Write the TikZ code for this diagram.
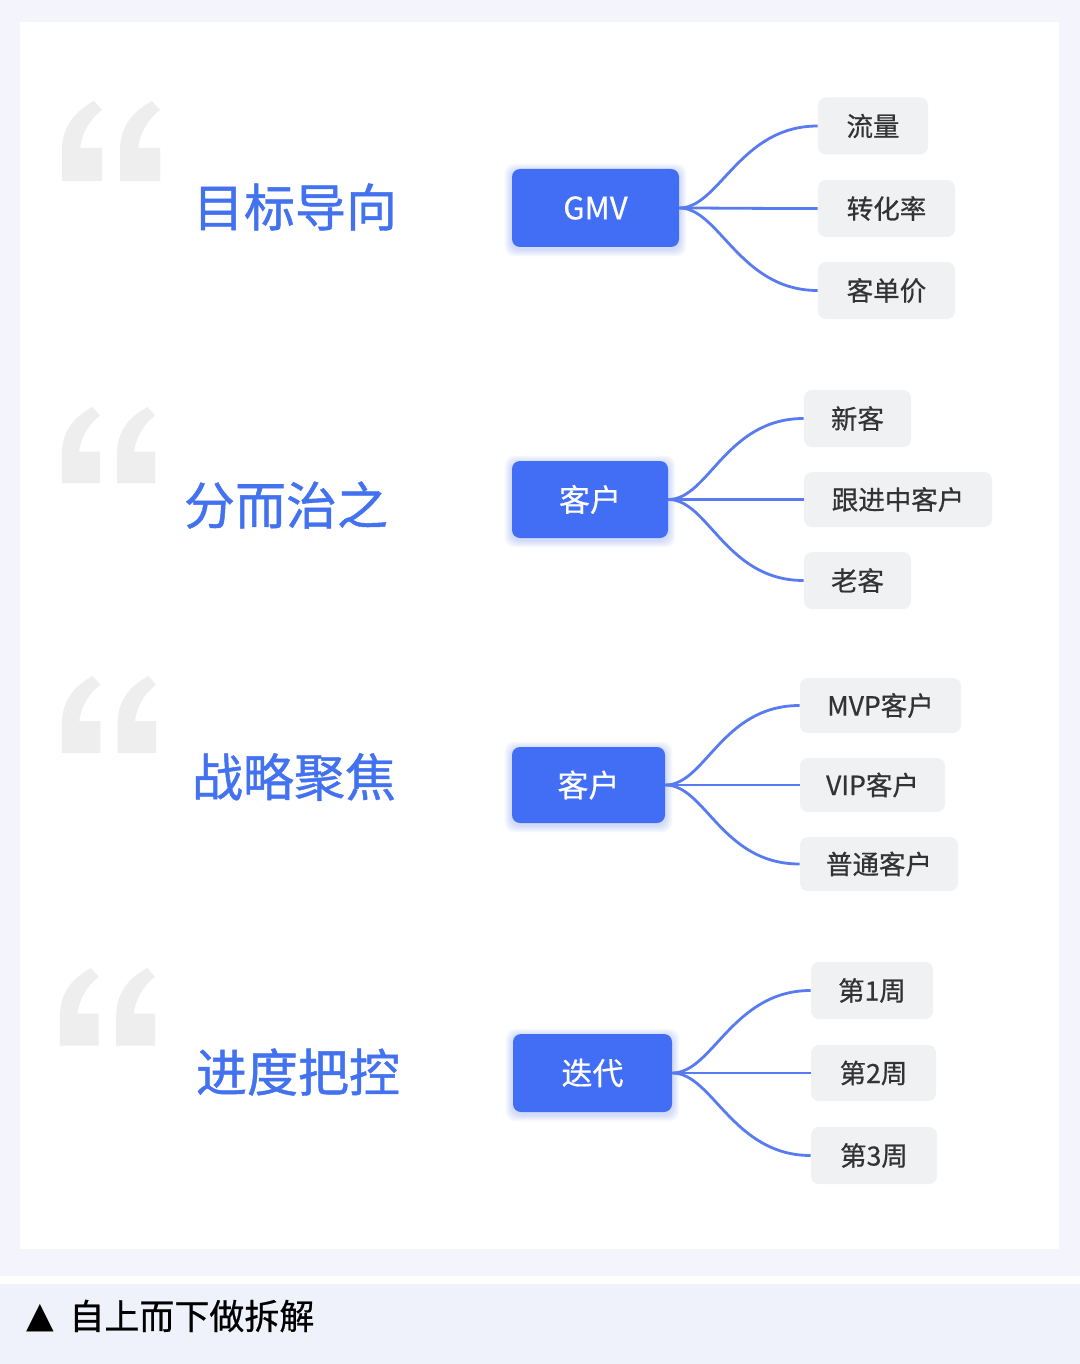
\documentclass[tikz,border=0pt]{standalone}
\usepackage{fontspec}
\newfontfamily\cjk{Noto Sans CJK SC}
\newfontfamily\cjkm[FakeBold=0.6]{Noto Sans CJK SC}
\newfontfamily\cjkt[FakeBold=0.9]{Noto Sans CJK SC}
\newfontfamily\djv{DejaVu Sans}
\usetikzlibrary{calc,backgrounds}
\definecolor{pagebg}{HTML}{F4F5FC}
\definecolor{capbg}{HTML}{EFF2FA}
\definecolor{mainblue}{HTML}{416EF5}
\definecolor{linkblue}{HTML}{587BF2}
\definecolor{titleblue}{HTML}{4372F0}
\definecolor{leafgray}{HTML}{F0F1F3}
\definecolor{leaftext}{HTML}{333333}
\definecolor{quotegray}{HTML}{EEEEEE}
\tikzset{
 mainbox/.style={fill=mainblue, rounded corners=4pt, text=white, font=\cjkm\fontsize{15.5}{18}\selectfont, inner sep=0pt},
 leafbox/.style={fill=leafgray, rounded corners=4pt, text=leaftext, font=\cjkm\fontsize{13.25}{16}\selectfont, inner sep=0pt, minimum height=28.5pt},
 titletext/.style={text=titleblue, font=\cjkt\fontsize{25.5}{30}\selectfont, inner sep=0pt},
 link/.style={draw=linkblue, line width=1.4pt},
 quotepair/.pic={
  \foreach \dx in {0,58}{
   \fill[quotegray] (\dx+2,80) -- (\dx+42,80) -- (\dx+42,47) -- (\dx+20,47)
     .. controls (\dx+22,32) and (\dx+30,18) .. (\dx+42,9) -- (\dx+34,0)
     .. controls (\dx+12,12) and (\dx+2,28) .. (\dx+2,50) -- cycle;
  }
 },
}
\begin{document}
\begin{tikzpicture}[x=0.5pt,y=-0.5pt]
\useasboundingbox (0,0) rectangle (1080,1364);
\begin{scope}[on background layer]
 \fill[pagebg] (0,0) rectangle (1080,1276);
 \fill[white] (0,1276) rectangle (1080,1284);
 \fill[capbg] (0,1284) rectangle (1080,1364);
 \fill[white] (20,22) rectangle (1059,1249);
\end{scope}

% quote marks
\pic at (60,101) {quotepair};
\pic[scale=0.95] at (60,407) {quotepair};
\pic[scale=0.96] at (60,676) {quotepair};
\pic[scale=0.97] at (58,968) {quotepair};

% titles
\node[titletext] (t1) at (295,207) {目标导向};
\node[titletext] (t2) at (286,505) {分而治之};
\node[titletext] (t3) at (294,777) {战略聚焦};
\node[titletext] (t4) at (298,1072) {进度把控};

% main boxes
\node[mainbox, minimum width=83.5pt, minimum height=39pt] (m1) at (595.5,208) {GMV};
\node[mainbox, minimum width=78pt, minimum height=38.5pt] (m2) at (590,499.5) {客户};
\node[mainbox, minimum width=76.5pt, minimum height=38pt] (m3) at (588.5,785) {客户};
\node[mainbox, minimum width=79.5pt, minimum height=39pt] (m4) at (592.5,1073) {迭代};

% leaves
\node[leafbox, minimum width=55pt] (l1a) at (873,126) {流量};
\node[leafbox, minimum width=68.5pt] (l1b) at (886.5,208.5) {转化率};
\node[leafbox, minimum width=68.5pt] (l1c) at (886.5,290.5) {客单价};
\node[leafbox, minimum width=53.5pt] (l2a) at (857.5,418.5) {新客};
\node[leafbox, minimum width=94pt, minimum height=27.5pt] (l2b) at (898,499.5) {跟进中客户};
\node[leafbox, minimum width=53.5pt] (l2c) at (857.5,580.5) {老客};
\node[leafbox, minimum width=80.5pt, minimum height=27.5pt] (l3a) at (880.5,705.5) {MVP客户};
\node[leafbox, minimum width=72.5pt, minimum height=27pt] (l3b) at (872.5,785) {VIP客户};
\node[leafbox, minimum width=79pt, minimum height=27pt] (l3c) at (879,864) {普通客户};
\node[leafbox, minimum width=61pt] (l4a) at (872,990.5) {第1周};
\node[leafbox, minimum width=62.5pt, minimum height=28pt] (l4b) at (873.5,1073) {第2周};
\node[leafbox, minimum width=63pt] (l4c) at (874,1155.5) {第3周};

% connectors
\foreach \m/\l in {m1/l1a,m1/l1b,m1/l1c,m2/l2a,m2/l2b,m2/l2c,m3/l3a,m3/l3b,m3/l3c,m4/l4a,m4/l4b,m4/l4c}{
 \draw[link] (\m.east) .. controls ($(\m.east)+(40,0)$) and ($(\l.west)+(-78,0)$) .. (\l.west);
}

% glow behind main boxes
\begin{scope}[on background layer]
\foreach \m in {m1,m2,m3,m4}{
 \foreach \d in {1,...,7}{
  \fill[mainblue, opacity=0.035, rounded corners=5pt] ($(\m.south west)+(-\d,\d+2)$) rectangle ($(\m.north east)+(\d,-\d+2)$);
 }
}
\end{scope}

% caption
\node[inner sep=0pt, font=\djv\fontsize{18}{20}\selectfont] (tri) at (40,1318) {▲};
\node[anchor=west, inner sep=0pt, font=\cjkm\fontsize{17.5}{20}\selectfont] (cap) at (69,1316) {自上而下做拆解};
\end{tikzpicture}
\end{document}
